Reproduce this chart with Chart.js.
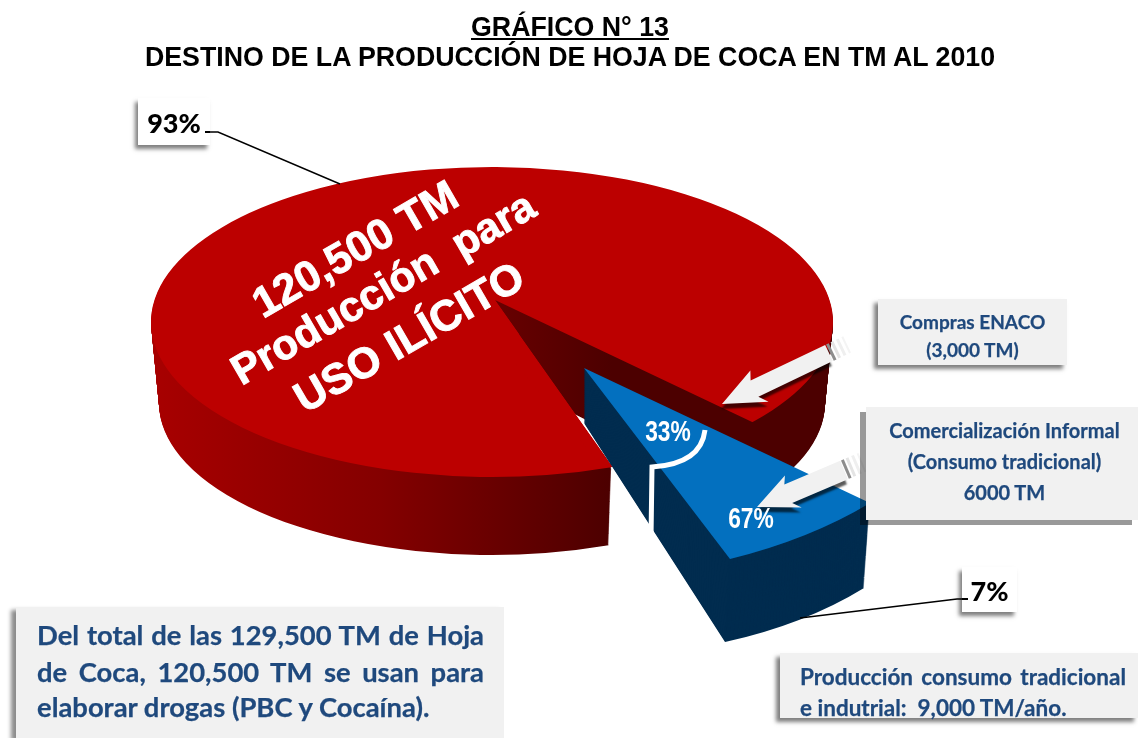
<!DOCTYPE html>
<html lang="es">
<head>
<meta charset="utf-8">
<title>Gráfico N° 13</title>
<script src="https://cdn.jsdelivr.net/npm/chart.js@4"></script>
<style>
html,body{margin:0;padding:0;background:#fff;width:1138px;height:738px;overflow:hidden}
#wrap{position:relative;width:1138px;height:738px}
canvas{position:absolute;left:0;top:0}
.t{position:absolute;white-space:pre;font-family:"Liberation Sans",Arial,sans-serif}
.title{left:0;width:1140px;text-align:center;font-weight:bold;font-size:26.75px;color:#000;line-height:30px}
.box{position:absolute;background:#f1f1f1}
.cal{font-family:Lato,"Open Sans",sans-serif;font-weight:700;color:#1f497d;-webkit-text-stroke:.25px #1f497d}
.line{position:absolute;white-space:nowrap;text-align:justify;text-align-last:justify}
.pct{position:absolute;background:#fff;font-family:Lato,sans-serif;font-weight:900;color:#000;text-align:center;box-shadow:-3px 4px 4px rgba(0,0,0,.5)}
.rot{color:#fff;font-weight:bold;-webkit-text-stroke:.9px #fff;transform:translate(-50%,-50%) rotate(-30deg);transform-origin:center}
.narrow{font-family:"Liberation Sans",sans-serif;font-weight:bold;color:#fff;font-size:30px;transform:translate(-50%,-50%) scaleX(.76)}
.tick{position:absolute;background:#000;height:1.5px}
</style>
</head>
<body>
<div id="wrap">
<canvas id="c" width="1138" height="738"></canvas>
<div class="t title" style="top:12px;"><u>GRÁFICO N° 13</u></div>
<div class="t title" style="top:42px;">DESTINO DE LA PRODUCCIÓN DE HOJA DE COCA EN TM AL 2010</div>

<div class="t rot" style="left:355px;top:249px;font-size:43px">120,500 TM</div>
<div class="t rot" style="left:383px;top:288px;font-size:42px">Producción  para</div>
<div class="t rot" style="left:409px;top:337px;font-size:43px">USO ILÍCITO</div>
<div class="t narrow" style="left:668px;top:431px">33%</div>
<div class="t narrow" style="left:751px;top:518px">67%</div>

<div class="pct" style="left:138px;top:98px;width:72px;height:47px;line-height:50px;font-size:27px">93%</div>
<div class="pct" style="left:962px;top:567px;width:55px;height:45px;line-height:47px;font-size:27px">7%</div>
<div class="tick" style="left:205px;top:131px;width:5px"></div>
<div class="tick" style="left:962px;top:598px;width:6px"></div>

<div class="box cal" style="left:878px;top:299px;width:189px;height:66px;box-shadow:-4px 4px 4px rgba(0,0,0,.5);text-align:center;font-size:19px;line-height:28px">
<div style="padding-top:9px">Compras ENACO<br>(3,000 TM)</div></div>

<div class="box cal" style="left:866px;top:407px;width:272px;height:113px;box-shadow:-6px 5px 0 rgba(0,0,0,.4);text-align:center;font-size:20px;line-height:31px">
<div style="padding-top:8px;padding-left:5px">Comercialización Informal<br>(Consumo tradicional)<br>6000 TM</div></div>

<div class="box cal" style="left:16px;top:607px;width:488px;height:131px;box-shadow:-5px 3px 4px rgba(0,0,0,.45);font-size:27.4px">
<div class="line" style="left:21px;top:13px;width:447px;line-height:30px">Del total de las 129,500 TM de Hoja</div>
<div class="line" style="left:21px;top:50px;width:447px;line-height:30px">de Coca, 120,500 TM se usan para</div>
<div class="t" style="left:21px;top:85px;line-height:30px;font-family:inherit">elaborar drogas (PBC y Cocaína).</div>
</div>

<div class="box cal" style="left:780px;top:653px;width:358px;height:65px;box-shadow:-4px 4px 4px rgba(0,0,0,.5);font-size:22.5px">
<div class="line" style="left:20px;top:11px;width:326px;line-height:26px">Producción consumo tradicional</div>
<div class="t" style="left:20px;top:42px;line-height:26px;font-family:inherit">e indutrial:  9,000 TM/año.</div>
</div>
</div>

<script>
// Data
const categories = ['Producción para uso ilícito', 'Producción consumo tradicional e industrial'];
const tonnes = [120500, 9000];
const sliceColors = ['#bc0000', '#0370bf'];

// Fake-3D view of the pie: where the drawn arcs land on the page
const view = {
  rimCx: 492, rimCy: 322, rimRx: 341, rimRy: 155,
  rimDrop: {cx: 0, cy: 81, rx: -8, ry: -3},
  redApex: [495, 300], redFar: [750, 421], redNear: [613, 467],
  redApexDrop: [0, 74], redFarDrop: [-3, 80], redNearDrop: [-1, 78],
  redLayers: 80,
  blueApex: [584, 368], blueRight: [870, 503], blueBottom: [730, 559],
  blueApexDrop: [0, 55], blueRightDrop: [-6, 85], blueBottomDrop: [-5, 83],
  blueLayers: 84
};

function styled(arc, color) {
  const el = Object.create(arc);
  el.options = Object.assign({}, arc.options, {backgroundColor: color, borderWidth: 0});
  return el;
}
const drop = (p, d, t) => [p[0] + d[0] * t, p[1] + d[1] * t];

// Draws an arc so that its centre lands on A and its two radii end on P and Q
function drawMapped(ctx, arc, A, P, Q, color) {
  const R = arc.outerRadius;
  const ux = R * Math.cos(arc.startAngle), uy = R * Math.sin(arc.startAngle);
  const vx = R * Math.cos(arc.endAngle), vy = R * Math.sin(arc.endAngle);
  const px = P[0] - A[0], py = P[1] - A[1], qx = Q[0] - A[0], qy = Q[1] - A[1];
  const det = ux * vy - uy * vx;
  const a = (px * vy - qx * uy) / det, b = (qx * ux - px * vx) / det;
  const c = (py * vy - qy * uy) / det, d = (qy * ux - py * vx) / det;
  ctx.save();
  ctx.transform(a, c, b, d, A[0], A[1]);
  ctx.translate(-arc.x, -arc.y);
  styled(arc, color).draw(ctx);
  ctx.restore();
}

function drawRedLayer(ctx, arc, t, colorFor) {
  const d = view.rimDrop;
  const cx = view.rimCx + d.cx * t, cy = view.rimCy + d.cy * t;
  const rx = view.rimRx + d.rx * t, ry = view.rimRy + d.ry * t;
  const A = drop(view.redApex, view.redApexDrop, t);
  const F = drop(view.redFar, view.redFarDrop, t);
  const N = drop(view.redNear, view.redNearDrop, t);
  const far = [A[0] + (F[0] - A[0]) * 1.5, A[1] + (F[1] - A[1]) * 1.5];
  const near = [A[0] + (N[0] - A[0]) * 1.5, A[1] + (N[1] - A[1]) * 1.5];
  const k = rx / arc.outerRadius;

  // rim ellipse with the wedge (seen from the apex) cut out
  ctx.save();
  ctx.beginPath();
  ctx.rect(0, 0, ctx.canvas.width, ctx.canvas.height);
  ctx.moveTo(A[0], A[1]);
  ctx.lineTo(far[0], far[1]);
  ctx.lineTo(near[0], near[1]);
  ctx.closePath();
  ctx.clip('evenodd');
  ctx.translate(cx, cy);
  ctx.scale(k, ry / arc.outerRadius);
  ctx.translate(-arc.x, -arc.y);
  styled(arc, colorFor(cx, k)).draw(ctx);
  ctx.restore();

  // top surface only: fill between rim-centre edge and the apex edge
  if (t === 0) {
    ctx.save();
    ctx.beginPath();
    ctx.moveTo(A[0], A[1]);
    ctx.lineTo(N[0], N[1]);
    ctx.lineTo(N[0] - 10, N[1]);
    ctx.lineTo(cx - 12, cy);
    ctx.closePath();
    ctx.clip();
    drawMapped(ctx, arc, A, F, N, colorFor(cx, k));
    ctx.restore();
  }
}

function drawBlueLayer(ctx, arc, t, color) {
  const A = drop(view.blueApex, view.blueApexDrop, t);
  const P = drop(view.blueRight, view.blueRightDrop, t);
  const Q = drop(view.blueBottom, view.blueBottomDrop, t);
  drawMapped(ctx, arc, A, P, Q, color);
}

function arrow(ctx, tip, tail, sw, hw, hl) {
  const ang = Math.atan2(tail[1] - tip[1], tail[0] - tip[0]);
  const L = Math.hypot(tail[0] - tip[0], tail[1] - tip[1]);
  ctx.save();
  ctx.translate(tip[0], tip[1]);
  ctx.rotate(ang);
  ctx.save();
  ctx.shadowColor = 'rgba(0,0,0,.65)';
  ctx.shadowBlur = 2;
  ctx.shadowOffsetX = -1;
  ctx.shadowOffsetY = 5;
  ctx.fillStyle = '#f1f1f1';
  ctx.beginPath();
  ctx.moveTo(0, 0);
  ctx.lineTo(hl, -hw);
  ctx.lineTo(hl - 4, -sw);
  ctx.lineTo(L, -sw);
  ctx.lineTo(L, sw);
  ctx.lineTo(hl - 4, sw);
  ctx.lineTo(hl + 3, hw);
  ctx.closePath();
  ctx.fill();
  ctx.restore();
  [[1, 3, '#8d8d8d'], [6, 3, '#e4e4e4'], [12, 3, '#efefef'], [18, 2, '#f4f4f4']].forEach(([o, w, c]) => {
    ctx.fillStyle = c;
    ctx.fillRect(L + o, -sw, w, sw * 2);
  });
  ctx.restore();
}

function line(ctx, pts, color, width) {
  ctx.save();
  ctx.strokeStyle = color;
  ctx.lineWidth = width;
  ctx.beginPath();
  pts.forEach((p, i) => i ? ctx.lineTo(p[0], p[1]) : ctx.moveTo(p[0], p[1]));
  ctx.stroke();
  ctx.restore();
}

const pie3d = {
  id: 'pie3d',
  beforeDatasetDraw(chart) {
    const ctx = chart.ctx;
    const arcs = chart.getDatasetMeta(0).data;
    const red = arcs[0], blue = arcs[1];

    const sideColor = (cx, k) => {
      const x0 = red.x + (150 - cx) / k, x1 = red.x + (612 - cx) / k;
      const g = ctx.createLinearGradient(x0, 0, x1, 0);
      g.addColorStop(0, '#a80000');
      g.addColorStop(0.5, '#840000');
      g.addColorStop(1, '#4c0000');
      return g;
    };

    for (let n = view.redLayers; n > 0; n--) drawRedLayer(ctx, red, n / view.redLayers, sideColor);
    drawRedLayer(ctx, red, 0, () => sliceColors[0]);

    for (let n = view.blueLayers; n > 0; n--) drawBlueLayer(ctx, blue, n / view.blueLayers, '#012c4f');
    drawBlueLayer(ctx, blue, 0, sliceColors[1]);

    // white bracket that splits the 7 % slice
    ctx.save();
    ctx.strokeStyle = '#fff';
    ctx.lineWidth = 5;
    ctx.beginPath();
    ctx.moveTo(705, 430);
    ctx.quadraticCurveTo(701, 464, 652, 467);
    ctx.lineTo(651, 538);
    ctx.stroke();
    ctx.restore();

    // leader lines
    line(ctx, [[207, 132], [218, 132], [340, 184]], '#000', 1.4);
    line(ctx, [[967, 599], [957, 599], [800, 618]], '#000', 1.4);

    // callout arrows
    arrow(ctx, [722, 404], [829, 353], 9, 18, 40);
    arrow(ctx, [757, 507], [844, 470], 10, 18, 38);
    return false;
  }
};

new Chart(document.getElementById('c'), {
  type: 'pie',
  data: {
    labels: categories,
    datasets: [{data: tonnes, backgroundColor: sliceColors, borderWidth: 0}]
  },
  options: {
    responsive: false,
    animation: false,
    rotation: 159.5,
    radius: view.rimRx,
    layout: {padding: 0},
    plugins: {legend: {display: false}, tooltip: {enabled: false}}
  },
  plugins: [pie3d]
});
</script>
</body>
</html>
